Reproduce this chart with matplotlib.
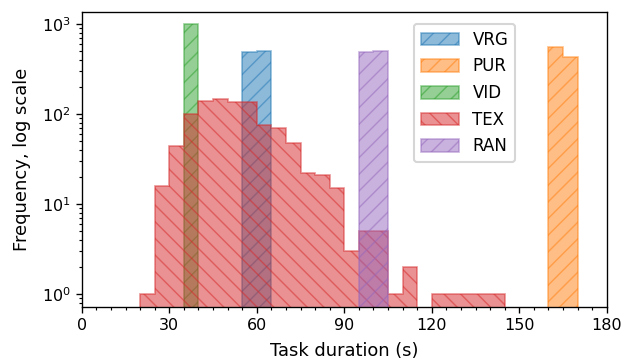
import numpy as np
import matplotlib
matplotlib.use("Agg")
from matplotlib import pyplot as plt
from matplotlib.ticker import MultipleLocator

# histogram bins are 5 s wide; counts
labels = ["VRG", "PUR", "VID", "TEX", "RAN"]
hatches = ["///", "///", "///", "\\\\\\", "///"]

vrg_edges = [55, 60, 65]
vrg_counts = [490, 505]

pur_edges = [160, 165, 170]
pur_counts = [565, 435]

vid_edges = [35, 40]
vid_counts = [1000]

tex_edges = list(range(20, 150, 5))
tex_counts = [1, 16, 44, 100, 140, 147, 138, 136, 76, 71, 48, 22, 21, 15,
              3, 5, 5, 1, 2, 0, 1, 1, 1, 1, 1]

ran_edges = [95, 100, 105]
ran_counts = [495, 505]

series = [
    (vrg_edges, vrg_counts),
    (pur_edges, pur_counts),
    (vid_edges, vid_counts),
    (tex_edges, tex_counts),
    (ran_edges, ran_counts),
]

DPI = 150
plt.rcParams["font.family"] = "DejaVu Sans"
plt.rcParams["hatch.linewidth"] = 0.7
plt.rcParams["axes.linewidth"] = 0.65

fig = plt.figure(figsize=(622 / DPI, 362 / DPI), dpi=DPI)
ax = fig.add_axes([0.1315, 0.152, 0.8441, 0.8158])

for i, ((edges, counts), lab, h) in enumerate(zip(series, labels, hatches)):
    edges = np.array(edges, dtype=float)
    centers = (edges[:-1] + edges[1:]) / 2
    col = "C%d" % i
    ax.hist(centers, bins=edges, weights=counts, histtype="stepfilled",
            log=True, alpha=0.5, facecolor=col, edgecolor=col,
            linewidth=0.8, hatch=h, label=lab)

ax.set_xlim(0, 180)
ax.set_ylim(0.722, 1380)
ax.xaxis.set_major_locator(MultipleLocator(30))
ax.xaxis.set_minor_locator(MultipleLocator(5))
ax.tick_params(which="major", length=2.8, width=0.65, labelsize=7.7, pad=2.4)
ax.tick_params(which="minor", length=1.6, width=0.55)

ax.set_xlabel("Task duration (s)", fontsize=8.6, labelpad=4.2)
ax.set_ylabel("Frequency, log scale", fontsize=8.6, labelpad=5.5)

ax.legend(loc="upper left", bbox_to_anchor=(0.633, 0.958), borderaxespad=0,
          fontsize=8.0, frameon=True, handlelength=2.3, handleheight=0.8,
          labelspacing=0.52)

fig.savefig("out.png", dpi=DPI)
